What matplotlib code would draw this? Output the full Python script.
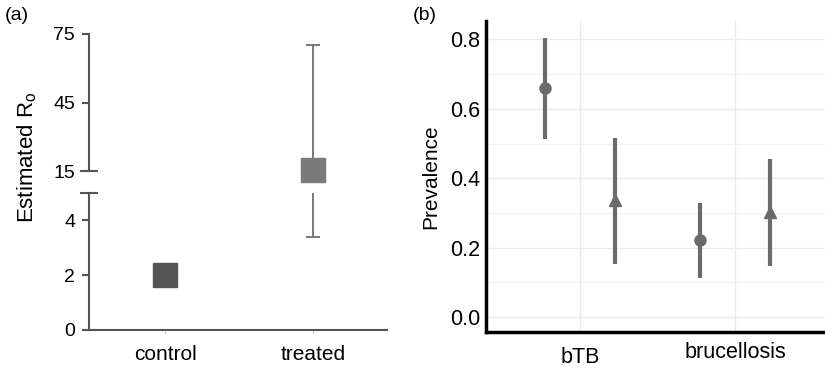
import numpy as np
import matplotlib.pyplot as plt
from matplotlib.transforms import ScaledTranslation

plt.rcParams['font.family'] = ['Liberation Sans', 'DejaVu Sans']

# panel (a): estimated R0
groups = ["control", "treated"]
r0_est = [2.0, 15.3]
r0_lo = [2.0, 3.4]
r0_hi = [2.0, 70.0]
sq_colors = ["#555555", "#7a7a7a"]

# panel (b): prevalence
diseases = ["bTB", "brucellosis"]
prev_control = [0.66, 0.222]
prev_control_lo = [0.513, 0.112]
prev_control_hi = [0.804, 0.328]
prev_treated = [0.337, 0.303]
prev_treated_lo = [0.153, 0.147]
prev_treated_hi = [0.516, 0.455]

W, H = 825, 368
fig = plt.figure(figsize=(W / 100, H / 100), dpi=100)

axis_col = "#555555"
ax_up = fig.add_axes([89 / W, 1 - 171 / H, (387 - 89) / W, 137 / H])
ax_lo = fig.add_axes([89 / W, 1 - 330 / H, (387 - 89) / W, 137 / H])

x = np.arange(len(groups))
for ax, lim in [(ax_up, (15, 75)), (ax_lo, (0, 5))]:
    ax.set_xlim(-0.514, 1.5)
    ax.set_ylim(*lim)
    for s in ["top", "right"]:
        ax.spines[s].set_visible(False)
    ax.spines["left"].set_color(axis_col)
    ax.spines["left"].set_linewidth(1.5)
    ax.tick_params(axis="y", labelsize=14, length=5, width=1.5, color=axis_col, pad=5)
    yerr = [np.array(r0_est) - np.array(r0_lo), np.array(r0_hi) - np.array(r0_est)]
    ax.errorbar(x, r0_est, yerr=yerr, fmt="none", ecolor="#6e6e6e",
                elinewidth=1.3, capsize=5, capthick=1.3)
    # break marks on the y axis
    ax.plot([0], [lim[0] if ax is ax_up else lim[1]], marker="_", ms=13, mew=1.5,
            color=axis_col, transform=ax.get_yaxis_transform(), clip_on=False)

ax_up.spines["bottom"].set_visible(False)
ax_up.set_xticks([])
ax_up.set_yticks([15, 45, 75])
ax_lo.set_yticks([0, 2, 4])
ax_lo.spines["bottom"].set_color(axis_col)
ax_lo.spines["bottom"].set_linewidth(1.5)
ax_lo.set_xticks(x)
ax_lo.set_xticklabels(groups, fontsize=15)
ax_lo.tick_params(axis="x", length=3, width=0.8, color="#cccccc", pad=8)

ax_lo.plot(x[0], r0_est[0], marker="s", ms=17, color=sq_colors[0], ls="none", clip_on=False, zorder=5)
ax_up.plot(x[1], r0_est[1], marker="s", ms=17, color=sq_colors[1], ls="none", clip_on=False, zorder=5)

fig.text(27 / W, 1 - 157 / H, "Estimated R$_\\mathregular{o}$", rotation=90,
         ha="center", va="center", fontsize=16)
fig.text(5 / W, 1 - 15 / H, "(a)", ha="left", va="center", fontsize=14)

# panel (b)
axb = fig.add_axes([486 / W, 1 - 332 / H, (W - 486) / W, (332 - 21) / H])
xc = np.arange(len(diseases))
dodge = 0.225
pcol = "#6b6b6b"
axb.set_xlim(-0.606, 1.58)
axb.set_ylim(-0.043, 0.853)
axb.set_yticks([0.0, 0.2, 0.4, 0.6, 0.8])
axb.set_yticks([0.1, 0.3, 0.5, 0.7], minor=True)
axb.set_xticks(xc)
axb.set_xticklabels(diseases, fontsize=15.5)
axb.grid(True, which="major", color="#ebebeb", lw=1.0)
axb.grid(True, which="minor", axis="y", color="#f3f3f3", lw=0.8)
axb.set_axisbelow(True)
axb.tick_params(axis="both", which="both", length=0, labelsize=15.5)
axb.tick_params(axis="y", pad=4)
axb.tick_params(axis="x", pad=7)
for s in ["top", "right"]:
    axb.spines[s].set_visible(False)
for s in ["left", "bottom"]:
    axb.spines[s].set_linewidth(2.5)
    axb.spines[s].set_color("black")

axb.vlines(xc - dodge, prev_control_lo, prev_control_hi, color=pcol, lw=3)
axb.plot(xc - dodge, prev_control, "o", color=pcol, ms=8)
axb.vlines(xc + dodge, prev_treated_lo, prev_treated_hi, color=pcol, lw=3)
axb.plot(xc + dodge, prev_treated, "^", color=pcol, ms=9)

lbl = axb.get_xticklabels()[0]
lbl.set_transform(lbl.get_transform() + ScaledTranslation(0, -5 / 100, fig.dpi_scale_trans))

axb.set_ylabel("Prevalence", fontsize=15, labelpad=7)
fig.text(413 / W, 1 - 15 / H, "(b)", ha="left", va="center", fontsize=14)

fig.savefig("out.png", dpi=100)
